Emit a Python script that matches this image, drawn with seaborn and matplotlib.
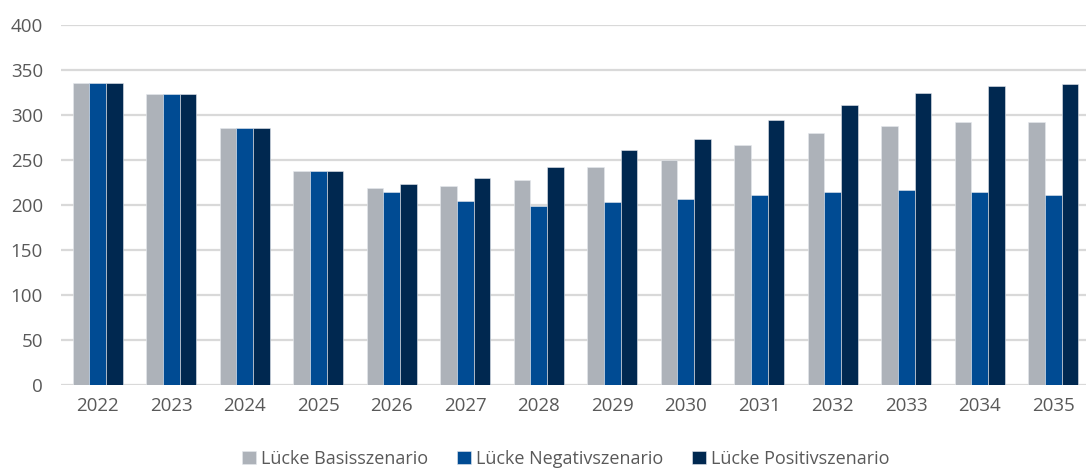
import matplotlib
matplotlib.use('Agg')
import matplotlib.pyplot as plt
import seaborn as sns
import pandas as pd

# data
years = ['2022', '2023', '2024', '2025', '2026', '2027', '2028',
         '2029', '2030', '2031', '2032', '2033', '2034', '2035']
basis = [336, 323, 286, 238, 219, 221, 228, 242, 250, 267, 280, 288, 292, 292]
negativ = [336, 323, 286, 238, 215, 205, 199, 203, 207, 211, 215, 217, 215, 211]
positiv = [336, 323, 286, 238, 223, 230, 242, 261, 273, 294, 311, 324, 332, 334]
series = ['Lücke Basisszenario', 'Lücke Negativszenario', 'Lücke Positivszenario']
colors = ['#ADB2B9', '#004B93', '#002850']

df = pd.DataFrame({
    'Jahr': years * 3,
    'Wert': basis + negativ + positiv,
    'Szenario': [series[0]] * len(years) + [series[1]] * len(years) + [series[2]] * len(years),
})

sns.set_style('white')
plt.rcParams['font.family'] = ['Open Sans', 'DejaVu Sans']
text_col = '#595959'

fig = plt.figure(figsize=(10.86, 4.68), dpi=100)
ax = fig.add_axes([0.0562, 0.1774, 0.9475, 0.769])

sns.barplot(data=df, x='Jahr', y='Wert', hue='Szenario', order=years,
            hue_order=series, palette=colors, saturation=1, width=0.68,
            dodge=True, edgecolor='#E6E9EE', linewidth=0.4, ax=ax, legend=True)

ax.set_xlim(-0.5, 13.5)
ax.set_ylim(0, 400)
ax.set_yticks(range(0, 401, 50))
ax.yaxis.grid(True, color='#D9D9D9', linewidth=1.6)
ax.set_axisbelow(True)
for s in ax.spines.values():
    s.set_visible(False)
ax.set_xlabel('')
ax.set_ylabel('')
ax.tick_params(axis='both', length=0, labelsize=13.5, labelcolor=text_col)
ax.tick_params(axis='x', pad=9)
ax.tick_params(axis='y', pad=13)

handles, labels = ax.get_legend_handles_labels()
ax.get_legend().remove()
fig.legend(handles, labels, loc='lower center', bbox_to_anchor=(0.521, -0.035),
           ncol=3, frameon=False, fontsize=13, labelcolor=text_col,
           handlelength=0.75, handleheight=0.75, handletextpad=0.3, columnspacing=1.6)

fig.savefig('out.png', dpi=100)
